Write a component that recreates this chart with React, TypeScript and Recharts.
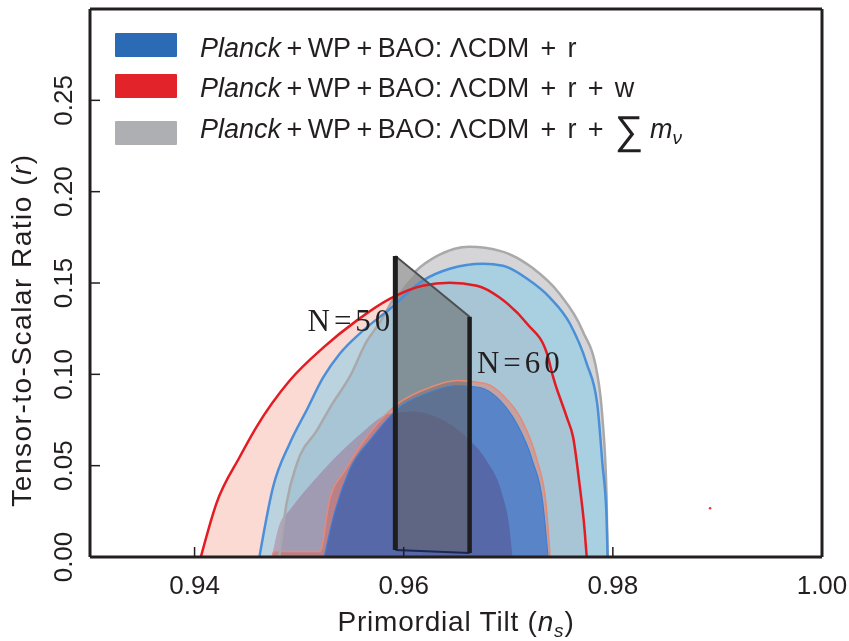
import React from 'react';
import { ComposedChart, Area, Line, XAxis, YAxis, ReferenceDot, Legend } from 'recharts';

// ---------- axis ticks ----------
const xTicks = [0.94, 0.96, 0.98, 1.0];
const yTicks = [0, 0.05, 0.1, 0.15, 0.2, 0.25];
const xDomain = [0.93, 1.0];
const yDomain = [0, 0.3];

// ---------- contours (n_s, r) ----------
// Planck+WP+BAO: LCDM + r + w (red), 95%
const redOuterNs = [0.9406, 0.9421, 0.9443, 0.9459, 0.9491, 0.9523, 0.9555, 0.9587, 0.9618, 0.9644, 0.967, 0.9692, 0.9718, 0.9737, 0.9743, 0.9756, 0.9762, 0.9768, 0.9773, 0.9775];
const redOuterR = [0, 0.0295, 0.0546, 0.071, 0.0966, 0.1146, 0.1294, 0.1414, 0.1485, 0.1501, 0.1485, 0.1419, 0.1277, 0.1114, 0.0983, 0.0764, 0.0655, 0.0404, 0.0147, 0];
// 68%
const redInnerNs = [0.9474, 0.9476, 0.952, 0.9529, 0.9544, 0.9568, 0.9596, 0.9625, 0.9651, 0.9678, 0.9697, 0.9713, 0.9727, 0.9736, 0.974];
const redInnerR = [0, 0.003, 0.003, 0.031, 0.0475, 0.0682, 0.0846, 0.0928, 0.0966, 0.095, 0.0873, 0.0748, 0.054, 0.0295, 0];

// Planck+WP+BAO: LCDM + r (blue), 95%
const blueOuterNs = [0.9462, 0.9475, 0.9491, 0.9507, 0.9523, 0.9539, 0.9561, 0.9587, 0.9618, 0.9644, 0.9676, 0.9695, 0.9718, 0.974, 0.9759, 0.9775, 0.9785, 0.979, 0.9794, 0.9795];
const blueOuterR = [0, 0.0382, 0.0622, 0.0802, 0.0983, 0.1114, 0.1239, 0.1359, 0.1512, 0.1578, 0.1605, 0.1594, 0.1523, 0.1419, 0.1277, 0.1059, 0.0841, 0.0513, 0.0218, 0];
// 68%
const blueInnerNs = [0.9524, 0.9532, 0.9548, 0.957, 0.9596, 0.9622, 0.9651, 0.9673, 0.9692, 0.9708, 0.9723, 0.9733, 0.9738];
const blueInnerR = [0, 0.0202, 0.0475, 0.0655, 0.0819, 0.0895, 0.0939, 0.0928, 0.0857, 0.0731, 0.0529, 0.0295, 0];

// Planck+WP+BAO: LCDM + r + sum m_nu (gray), 95%
const grayOuterNs = [0.9481, 0.9488, 0.9498, 0.9517, 0.9532, 0.9548, 0.9565, 0.9577, 0.9591, 0.9612, 0.9632, 0.9663, 0.9692, 0.9723, 0.9749, 0.9771, 0.9785, 0.979, 0.9794, 0.9795];
const grayOuterR = [0, 0.0295, 0.0513, 0.0693, 0.0841, 0.0983, 0.1184, 0.1283, 0.1419, 0.1567, 0.1648, 0.1698, 0.1676, 0.1583, 0.1441, 0.1239, 0.1004, 0.0764, 0.0328, 0];
// 68%
const grayInnerNs = [0.9474, 0.9481, 0.9491, 0.9523, 0.9555, 0.9587, 0.9609, 0.9634, 0.966, 0.9679, 0.9695, 0.9701, 0.9704];
const grayInnerR = [0, 0.0175, 0.0257, 0.0475, 0.0655, 0.0786, 0.0797, 0.0759, 0.0655, 0.0529, 0.0328, 0.0164, 0];

// ---------- inflation band N=50..60 ----------
const bandNs = [0.9592, 0.9663];
const bandLow = [0.0038, 0.0022];
const bandHigh = [0.1648, 0.1315];
const bandLabels = ['N=50', 'N=60'];
const bandLabelNs = [0.9508, 0.967];
const bandLabelR = [0.1239, 0.101];

// stray red mark
const strayNs = [0.9893];
const strayR = [0.0267];

// ---------- legend ----------
const legendPrefix = 'WP+BAO: ΛCDM';
const legendTerms = [['r'], ['r', 'w'], ['r', 'SUM_MNU']];
const legendColors = ['#2b6bb5', '#e2232a', '#aeafb2'];

const FONT = '"Liberation Sans", Arial, sans-serif';
const INK = '#231f20';
const SP = '\u2004\u200A';

const zip = (ns: number[], r: number[]) => ns.map((x, i) => ({ x, y: r[i] }));

const redOuter = zip(redOuterNs, redOuterR);
const redInner = zip(redInnerNs, redInnerR);
const blueOuter = zip(blueOuterNs, blueOuterR);
const blueInner = zip(blueInnerNs, blueInnerR);
const grayOuter = zip(grayOuterNs, grayOuterR);
const grayInner = zip(grayInnerNs, grayInnerR);
const band = bandNs.map((x, i) => ({ x, lo: bandLow[i], hi: bandHigh[i] }));
const bandTop = zip(bandNs, bandHigh);
const bandBottom = zip(bandNs, bandLow);
const bandLeft = [{ x: bandNs[0], y: bandLow[0] }, { x: bandNs[0], y: bandHigh[0] }];
const bandRight = [{ x: bandNs[1], y: bandLow[1] }, { x: bandNs[1], y: bandHigh[1] }];

const fills = [
  { key: 'redOuter', data: redOuter, fill: 'rgb(240,150,130)', opacity: 0.35, cls: '' },
  { key: 'grayOuter', data: grayOuter, fill: 'rgb(150,150,155)', opacity: 0.4, cls: '' },
  { key: 'blueOuter', data: blueOuter, fill: 'rgb(123,203,235)', opacity: 0.5, cls: '' },
  { key: 'redInner', data: redInner, fill: 'rgb(230,120,100)', opacity: 0.45, cls: '' },
  { key: 'blueInner', data: blueInner, fill: 'rgb(75,128,205)', opacity: 0.88, cls: '' },
  { key: 'grayInner', data: grayInner, fill: 'rgb(245,200,216)', opacity: 1, cls: 'mult' },
];

const outlines = [
  { key: 'lRedInner', data: redInner, stroke: '#e58a78', width: 1.5 },
  { key: 'lBlueInner', data: blueInner, stroke: '#3d7fd3', width: 1.2 },
  { key: 'lGrayOuter', data: grayOuter, stroke: '#a9a9ab', width: 2.5 },
  { key: 'lBlueOuter', data: blueOuter, stroke: '#4a8fd8', width: 2.5 },
  { key: 'lRedOuter', data: redOuter, stroke: '#e31b23', width: 2.5 },
];

const XTick = (props: any) => {
  const { x, y, payload } = props;
  return (
    <text x={x} y={y} textAnchor="middle" dy="0.36em" fontSize={26} fill={INK} fontFamily={FONT}>
      {Number(payload.value).toFixed(2)}
    </text>
  );
};

const YTick = (props: any) => {
  const { x, y, payload } = props;
  return (
    <text x={x} y={y} transform={`rotate(-90 ${x} ${y})`} textAnchor="middle" dy="0.36em" fontSize={26} fill={INK} fontFamily={FONT}>
      {Number(payload.value).toFixed(2)}
    </text>
  );
};

const renderLegend = () => {
  const rectTops = [33, 74, 121];
  const baselines = [57, 97, 138];
  return (
    <svg width={849} height={160} style={{ position: 'absolute', left: 0, top: 0, overflow: 'visible' }}>
      {legendTerms.map((terms, i) => (
        <g key={i}>
          <rect x={115} y={rectTops[i]} width={62} height={24} fill={legendColors[i]} rx={1} />
          <text x={200} y={baselines[i]} fontSize={27} fill={INK} fontFamily={FONT}>
            <tspan fontStyle="italic">Planck</tspan>
            <tspan>{'\u2009+\u2009' + legendPrefix.replace('+', '\u2009+\u2009')}</tspan>
            {terms.map((t, j) =>
              t === 'SUM_MNU' ? (
                <React.Fragment key={j}>
                  <tspan>{SP + '+' + SP}</tspan>
                  <tspan fontSize={40} dy={6}>∑</tspan>
                  <tspan fontStyle="italic" dy={-6}>{'\u2005m'}</tspan>
                  <tspan fontStyle="italic" fontSize={19} dy={6}>ν</tspan>
                </React.Fragment>
              ) : (
                <tspan key={j}>{SP + '+' + SP + t}</tspan>
              )
            )}
          </text>
        </g>
      ))}
    </svg>
  );
};

const BandLabel = (text: string) => (p: any) => (
  <text x={p.cx} y={p.cy} fontSize={31} letterSpacing={4} fill={INK} fontFamily='"Liberation Serif", "Times New Roman", serif'>
    {text}
  </text>
);

const YLabel = (props: any) => {
  const vb = props.viewBox || { x: 0, y: 9, width: 90, height: 548 };
  const cx = 31;
  const cy = vb.y + vb.height / 2 + 47;
  return (
    <text x={cx} y={cy} transform={`rotate(-90 ${cx} ${cy})`} textAnchor="middle" fontSize={28} letterSpacing={1.5} fill={INK} fontFamily={FONT}>
      Tensor-to-Scalar Ratio (<tspan fontStyle="italic">r</tspan>)
    </text>
  );
};

const XLabel = (props: any) => {
  const vb = props.viewBox || { x: 90, y: 557, width: 732, height: 84 };
  const cx = vb.x + vb.width / 2;
  const cy = 631;
  return (
    <text x={cx} y={cy} textAnchor="middle" fontSize={28} letterSpacing={0.8} fill={INK} fontFamily={FONT}>
      Primordial Tilt (<tspan fontStyle="italic">n</tspan>
      <tspan fontStyle="italic" fontSize={19} dy={6}>s</tspan>
      <tspan dy={-6}>)</tspan>
    </text>
  );
};

export default function App() {
  const axisLine = { stroke: INK, strokeWidth: 3 };
  const tickLine = { stroke: INK, strokeWidth: 1.5 };
  return (
    <div style={{ position: 'absolute', left: 0, top: 0, width: 849, height: 641, background: '#fff' }}>
      <style>{`.mult { mix-blend-mode: multiply; }`}</style>
      <ComposedChart width={849} height={641} margin={{ top: 8, right: 26, bottom: 0, left: 0 }}>
        <XAxis dataKey="x" type="number" domain={xDomain} ticks={xTicks} allowDataOverflow height={84}
          axisLine={axisLine} tickLine={tickLine} tickSize={-10} tickMargin={38} tick={<XTick />} label={<XLabel />} />
        <XAxis xAxisId="top" dataKey="x" type="number" domain={xDomain} ticks={xTicks} allowDataOverflow height={1}
          orientation="top" axisLine={axisLine} tickLine={tickLine} tickSize={-10} tick={false} />
        <YAxis type="number" domain={yDomain} ticks={yTicks} allowDataOverflow width={90}
          axisLine={axisLine} tickLine={tickLine} tickSize={-10} tickMargin={37} tick={<YTick />} label={<YLabel />} />
        <YAxis yAxisId="right" orientation="right" type="number" domain={yDomain} ticks={yTicks} allowDataOverflow width={1}
          axisLine={axisLine} tickLine={tickLine} tickSize={-10} tick={false} />

        {fills.map((f) => (
          <Area key={f.key} data={f.data} dataKey="y" type="monotoneX" baseValue={0} fill={f.fill} fillOpacity={f.opacity}
            stroke="none" className={f.cls} dot={false} activeDot={false} isAnimationActive={false} legendType="none" />
        ))}
        {outlines.map((o) => (
          <Line key={o.key} data={o.data} dataKey="y" type="monotoneX" stroke={o.stroke} strokeWidth={o.width}
            dot={false} activeDot={false} isAnimationActive={false} legendType="none" />
        ))}

        <Area data={band} dataKey={(d: any) => [d.lo, d.hi]} type="linear" fill="rgb(100,100,100)" fillOpacity={0.55}
          stroke="none" dot={false} activeDot={false} isAnimationActive={false} legendType="none" />
        <Line data={bandTop} dataKey="y" type="linear" stroke="#4d4f52" strokeWidth={2} dot={false} activeDot={false} isAnimationActive={false} legendType="none" />
        <Line data={bandBottom} dataKey="y" type="linear" stroke="#1b2754" strokeWidth={2} dot={false} activeDot={false} isAnimationActive={false} legendType="none" />
        <Line data={bandLeft} dataKey="y" type="linear" stroke="#1e1e1e" strokeWidth={5} dot={false} activeDot={false} isAnimationActive={false} legendType="none" />
        <Line data={bandRight} dataKey="y" type="linear" stroke="#1e1e1e" strokeWidth={4.5} dot={false} activeDot={false} isAnimationActive={false} legendType="none" />

        {bandLabels.map((t, i) => (
          <ReferenceDot key={t} x={bandLabelNs[i]} y={bandLabelR[i]} r={0} shape={BandLabel(t)} />
        ))}
        {strayNs.map((x, i) => (
          <ReferenceDot key={'s' + i} x={x} y={strayR[i]} r={1.3} fill="#e8343a" stroke="none" />
        ))}

        <Legend layout="horizontal" verticalAlign="middle" align="center" wrapperStyle={{ left: 0, top: 0, width: 849, height: 0 }} content={renderLegend} />
      </ComposedChart>
    </div>
  );
}
